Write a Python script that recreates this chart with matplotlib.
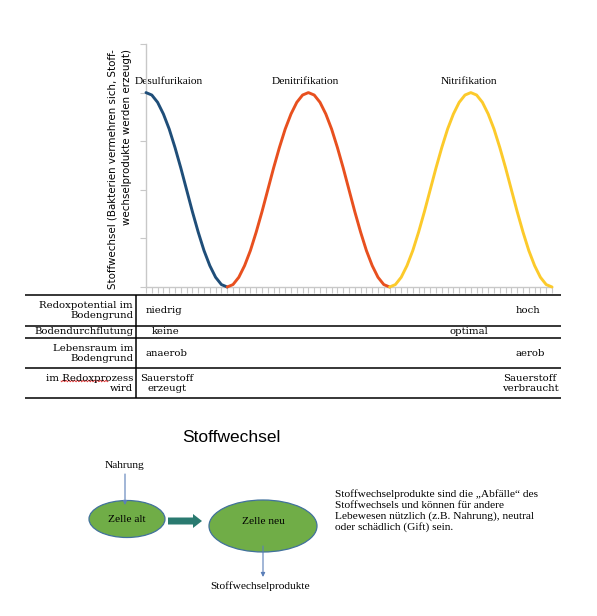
import numpy as np
import matplotlib
matplotlib.use("Agg")
import matplotlib.pyplot as plt
from matplotlib.patches import Ellipse, FancyArrow

# ---------------- data ----------------
blue_x = list(range(0, 15))
blue_y = [4.00, 3.95, 3.80, 3.56, 3.25, 2.87, 2.45, 2.00, 1.55, 1.13, 0.75, 0.44, 0.20, 0.05, 0.00]
red_x = list(range(14, 43))
red_y = [0.00, 0.05, 0.20, 0.44, 0.75, 1.13, 1.55, 2.00, 2.45, 2.87, 3.25, 3.56, 3.80, 3.95, 4.00,
         3.95, 3.80, 3.56, 3.25, 2.87, 2.45, 2.00, 1.55, 1.13, 0.75, 0.44, 0.20, 0.05, 0.00]
yellow_x = list(range(42, 71))
yellow_y = [0.00, 0.05, 0.20, 0.44, 0.75, 1.13, 1.55, 2.00, 2.45, 2.87, 3.25, 3.56, 3.80, 3.95, 4.00,
            3.95, 3.80, 3.56, 3.25, 2.87, 2.45, 2.00, 1.55, 1.13, 0.75, 0.44, 0.20, 0.05, 0.00]
peak_labels = ["Desulfurikaion", "Denitrifikation", "Nitrifikation"]
y_label = "Stoffwechsel (Bakterien vermehren sich, Stoff-\nwechselprodukte werden erzeugt)"

row_labels = ["Redoxpotential im\nBodengrund", "Bodendurchflutung",
              "Lebensraum im\nBodengrund", "im Redoxprozess\nwird"]
left_values = ["niedrig", "keine", "anaerob", "Sauerstoff\nerzeugt"]
right_values = ["hoch", "optimal", "aerob", "Sauerstoff\nverbraucht"]

diagram_title = "Stoffwechsel"
note_text = ("Stoffwechselprodukte sind die \u201eAbf\u00e4lle\u201c des\n"
             "Stoffwechsels und k\u00f6nnen f\u00fcr andere\n"
             "Lebewesen n\u00fctzlich (z.B. Nahrung), neutral\n"
             "oder sch\u00e4dlich (Gift) sein.")

# ---------------- figure ----------------
W, H = 597, 616
fig = plt.figure(figsize=(W / 100, H / 100), dpi=100)
fig.patch.set_facecolor("white")

ov = fig.add_axes([0, 0, 1, 1], zorder=0)
ov.set_xlim(0, W)
ov.set_ylim(H, 0)
ov.axis("off")

# chart axes (pixel box)
L, R, T, B = 146, 552, 44, 287
ax = fig.add_axes([L / W, 1 - B / H, (R - L) / W, (B - T) / H], zorder=1)
ax.patch.set_alpha(0)
ax.plot(blue_x, blue_y, color="#1f4e79", lw=2.1, solid_capstyle="round",
        solid_joinstyle="round", zorder=3, clip_on=False)
ax.plot(red_x, red_y, color="#e8501f", lw=2.1, solid_capstyle="round",
        solid_joinstyle="round", zorder=3, clip_on=False)
ax.plot(yellow_x, yellow_y, color="#fcca2b", lw=2.1, solid_capstyle="round",
        solid_joinstyle="round", zorder=3, clip_on=False)
ax.set_xlim(0, 70)
ax.set_ylim(0, 5)
ax.set_xticks(range(0, 71))
ax.set_yticks(range(0, 6))
ax.set_xticklabels([])
ax.set_yticklabels([])
ax.tick_params(axis="both", direction="out", length=4, width=0.8, color="#c8c8c8")
for s in ["top", "right"]:
    ax.spines[s].set_visible(False)
for s in ["left", "bottom"]:
    ax.spines[s].set_color("#c8c8c8")
    ax.spines[s].set_linewidth(1.0)

serif = ["Liberation Serif", "DejaVu Serif"]
peak_pos = [(169, 81), (305, 81), (469, 81)]
for lab, (px, py) in zip(peak_labels, peak_pos):
    ov.text(px, py, lab, ha="center", va="center", fontsize=8.2, family=serif, zorder=5)

ov.text(119.5, 169, y_label, rotation=90, ha="center", va="center",
        multialignment="right", fontsize=7.4, family=["DejaVu Sans"], linespacing=1.55)

# ---------------- table ----------------
tserif = ["DejaVu Serif"]
tfs = 7.3
h_lines = [295, 325.5, 338, 368, 398]
for yy in h_lines:
    ov.plot([25, 561], [yy, yy], color="black", lw=1.1, solid_capstyle="butt")
ov.plot([136, 136], [295, 398], color="black", lw=1.1, solid_capstyle="butt")

row_y = [310.2, 331.7, 353.5, 383.3]
for lab, yy in zip(row_labels, row_y):
    ov.text(133, yy, lab, ha="right", va="center", multialignment="right",
            fontsize=tfs, family=tserif, linespacing=1.15)
left_x = [146, 152, 145, 167]
left_ha = ["left", "left", "left", "center"]
for v, xx, ha, yy in zip(left_values, left_x, left_ha, row_y):
    ov.text(xx, yy, v, ha=ha, va="center", multialignment="center",
            fontsize=tfs, family=tserif, linespacing=1.15)
right_x = [528, 469, 530, 530]
for v, xx, yy in zip(right_values, right_x, row_y):
    ov.text(xx, yy, v, ha="center", va="center", multialignment="center",
            fontsize=tfs, family=tserif, linespacing=1.15)

# spell-check squiggle under "Redoxprozess"
sq = np.linspace(61, 108, 60)
ov.plot(sq, 381 + 0.9 * np.sin((sq - 61) * 2.2), color="#e03030", lw=0.6)

# ---------------- diagram ----------------
ov.text(231, 438, diagram_title, ha="center", va="center", fontsize=12.5,
        family=["Liberation Sans", "DejaVu Sans"])

ov.text(125, 466, "Nahrung", ha="center", va="center", fontsize=8.2, family=serif)
ov.annotate("", xy=(125, 505), xytext=(125, 474),
            arrowprops=dict(arrowstyle="-|>", color="#5b7fb8", lw=0.8,
                            mutation_scale=6, shrinkA=0, shrinkB=0), zorder=4)

ov.add_patch(Ellipse((127, 519), 76, 37, facecolor="#70ad47", edgecolor="#41719c", lw=0.9, zorder=2))
ov.text(127, 519, "Zelle alt", ha="center", va="center", fontsize=8.2, family=serif, zorder=3)

ov.add_patch(FancyArrow(168, 521, 25, 0, width=7, head_width=14, head_length=9,
                        length_includes_head=False, color="#2a7a70", lw=0, zorder=2))

ov.add_patch(Ellipse((263, 526), 108, 52, facecolor="#70ad47", edgecolor="#41719c", lw=0.9, zorder=2))
ov.text(263, 522, "Zelle neu", ha="center", va="center", fontsize=8.2, family=serif, zorder=3)

ov.annotate("", xy=(263, 577), xytext=(263, 546),
            arrowprops=dict(arrowstyle="-|>", color="#5b7fb8", lw=0.8,
                            mutation_scale=6, shrinkA=0, shrinkB=0), zorder=4)
ov.text(260, 586.5, "Stoffwechselprodukte", ha="center", va="center", fontsize=8.2, family=serif)

ov.text(335, 489.5, note_text, ha="left", va="top", fontsize=8.2, family=serif, linespacing=1.2)

fig.savefig("out.png", dpi=100, facecolor="white")
